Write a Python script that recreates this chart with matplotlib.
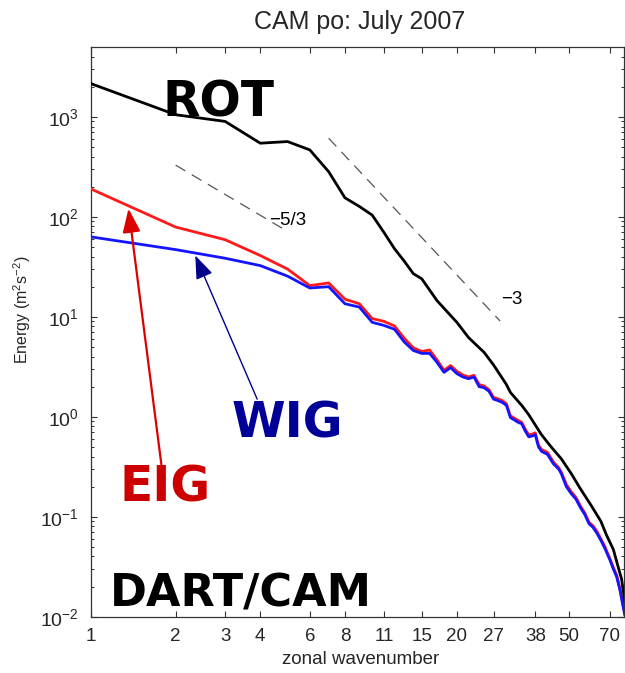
"""Kinetic energy spectra by zonal wavenumber: rotational vs. inertia-gravity (DART/CAM)."""

import matplotlib
matplotlib.use("Agg")
import matplotlib.pyplot as plt
from matplotlib.ticker import FixedLocator, FixedFormatter, LogLocator, NullFormatter

# --- data -------------------------------------------------------------------
rot_k = [1, 2, 3, 4, 5, 6, 7, 8, 9, 10, 11, 12, 13, 14, 15, 17, 19, 20, 22, 25,
         27, 30, 31, 34, 36, 40, 43, 47, 51, 55, 60, 65, 68, 72, 75, 77, 79]
rot_e = [2150, 1050, 900, 545, 566, 467, 283, 155, 127, 104, 70, 48, 36, 27, 24,
         14.5, 10.3, 8.8, 6.2, 4.4, 3.3, 2.1, 1.75, 1.3, 1.05, 0.66, 0.51, 0.38,
         0.27, 0.19, 0.13, 0.09, 0.066, 0.047, 0.031, 0.0238, 0.0145]

wig_k = [1, 2, 3, 4, 5, 6, 7, 8, 9, 10, 11, 12, 13, 14, 15, 16, 17, 18, 19, 20,
         21, 22, 23, 24, 25, 26, 27, 28, 29, 30, 31, 32, 33, 34, 35, 36, 37, 38,
         39, 40, 42, 44, 46, 47, 49, 51, 53, 55, 57, 59, 61, 63, 65, 67, 70, 72,
         74, 76, 78, 79]
wig_e = [63, 47, 38.5, 32.5, 25.5, 19.4, 20.0, 13.5, 12.5, 8.8, 8.2, 7.5, 5.6,
         4.6, 4.3, 4.3, 3.5, 2.78, 3.1, 2.7, 2.5, 2.4, 2.5, 2.0, 1.95, 1.8, 1.5,
         1.45, 1.39, 1.3, 0.98, 0.93, 0.88, 0.85, 0.72, 0.63, 0.64, 0.66, 0.5,
         0.45, 0.42, 0.34, 0.3, 0.27, 0.2, 0.17, 0.15, 0.123, 0.105, 0.085,
         0.078, 0.068, 0.058, 0.049, 0.037, 0.03, 0.025, 0.0185, 0.0126, 0.0105]

eig_k = wig_k
eig_e = [190, 79, 59, 41, 30, 20.5, 21.8, 15, 13.5, 9.6, 9.0, 8.1, 6.1, 4.9,
         4.5, 4.65, 3.7, 2.92, 3.25, 2.85, 2.62, 2.5, 2.6, 2.1, 2.03, 1.87, 1.56,
         1.51, 1.45, 1.35, 1.02, 0.97, 0.92, 0.88, 0.75, 0.66, 0.67, 0.69, 0.52,
         0.47, 0.44, 0.355, 0.31, 0.28, 0.21, 0.178, 0.156, 0.128, 0.109, 0.088,
         0.081, 0.071, 0.06, 0.051, 0.038, 0.031, 0.026, 0.019, 0.013, 0.0108]

xticks = [1, 2, 3, 4, 6, 8, 11, 15, 20, 27, 38, 50, 70]
xticklabels = [str(t) for t in xticks]

# reference slopes: (k_start, k_end, energy at k_start, exponent)
slope_53 = (2.0, 5.0, 329.0, -5.0 / 3.0)
slope_3 = (7.0, 28.5, 611.0, -3.0)

TXT = "#262626"


def ref_line(ax, spec):
    k0, k1, e0, p = spec
    ks = [k0, k1]
    es = [e0 * (k / k0) ** p for k in ks]
    ax.plot(ks, es, color="#555555", lw=0.9, dashes=(9, 6), zorder=2)


def main() -> None:
    plt.rcParams["font.family"] = ["Liberation Sans", "DejaVu Sans"]
    plt.rcParams["mathtext.fontset"] = "custom"
    plt.rcParams["mathtext.rm"] = "Liberation Sans"
    plt.rcParams["mathtext.it"] = "Liberation Sans:italic"
    plt.rcParams["mathtext.bf"] = "Liberation Sans:bold"

    fig = plt.figure(figsize=(6.25, 6.73), dpi=100)
    ax = fig.add_axes([0.1455, 0.0837, 0.853, 0.8465])

    ax.plot(rot_k, rot_e, color="black", lw=2.0, zorder=4)
    ax.plot(eig_k, eig_e, color="#ff1a1a", lw=2.0, zorder=3)
    ax.plot(wig_k, wig_e, color="#1414ff", lw=2.0, zorder=3.5)

    ref_line(ax, slope_53)
    ref_line(ax, slope_3)
    ax.text(5.0, 92, "\u22125/3", fontsize=13.5, color="black",
            ha="center", va="center")
    ax.text(31.3, 15, "\u22123", fontsize=13.5, color="black",
            ha="center", va="center")

    ax.set_xscale("log")
    ax.set_yscale("log")
    ax.set_xlim(1, 78.6)
    ax.set_ylim(1e-2, 5e3)

    ax.xaxis.set_major_locator(FixedLocator(xticks))
    ax.xaxis.set_major_formatter(FixedFormatter(xticklabels))
    ax.xaxis.set_minor_locator(FixedLocator([]))
    ax.yaxis.set_major_locator(LogLocator(base=10, numticks=10))
    ax.yaxis.set_minor_locator(LogLocator(base=10, subs=range(2, 10), numticks=50))
    ax.yaxis.set_minor_formatter(NullFormatter())

    ax.tick_params(which="both", direction="in", top=True, right=True,
                   colors="#333333", labelcolor=TXT)
    ax.tick_params(which="major", length=4.5, width=0.8)
    ax.tick_params(which="minor", length=2.3, width=0.7)
    ax.tick_params(axis="x", labelsize=13.5, pad=8)
    ax.tick_params(axis="y", labelsize=14, pad=9)
    for sp in ax.spines.values():
        sp.set_color("#333333")
        sp.set_linewidth(0.9)

    ax.set_xlabel("zonal wavenumber", fontsize=13.5, color=TXT)
    ax.xaxis.set_label_coords(0.505, -0.060)
    ax.set_ylabel("Energy (m$^2$s$^{-2}$)", fontsize=11.5, color=TXT)
    ax.yaxis.set_label_coords(-0.109, 0.538)
    fig.text(0.576, 1 - 29.5 / 673, "CAM po: July 2007", fontsize=18,
             color=TXT, ha="center", va="baseline")

    big = dict(family="DejaVu Sans", fontweight="bold", fontsize=35,
               ha="center", va="baseline", zorder=6)
    ax.text(2.85, 1016, "ROT", color="black", **big)
    ax.text(4.98, 0.622, "WIG", color="#000099", **big)
    ax.text(1.84, 0.143, "EIG", color="#cc0000", **big)
    ax.text(3.42, 0.0126, "DART/CAM", color="black",
            **{**big, "fontsize": 32})

    ax.annotate("", xy=(1.36, 121), xytext=(1.78, 0.333),
                arrowprops=dict(arrowstyle="-|>,head_length=0.8,head_width=0.3",
                                color="#dd0000", lw=1.6, mutation_scale=18,
                                shrinkA=0, shrinkB=0), zorder=5)
    ax.annotate("", xy=(2.35, 41), xytext=(3.9, 1.5),
                arrowprops=dict(arrowstyle="-|>,head_length=0.8,head_width=0.3",
                                color="#00008b", lw=1.0, mutation_scale=18,
                                shrinkA=0, shrinkB=0), zorder=5)

    fig.savefig("out.png", dpi=100)
    plt.close(fig)


if __name__ == "__main__":
    main()
